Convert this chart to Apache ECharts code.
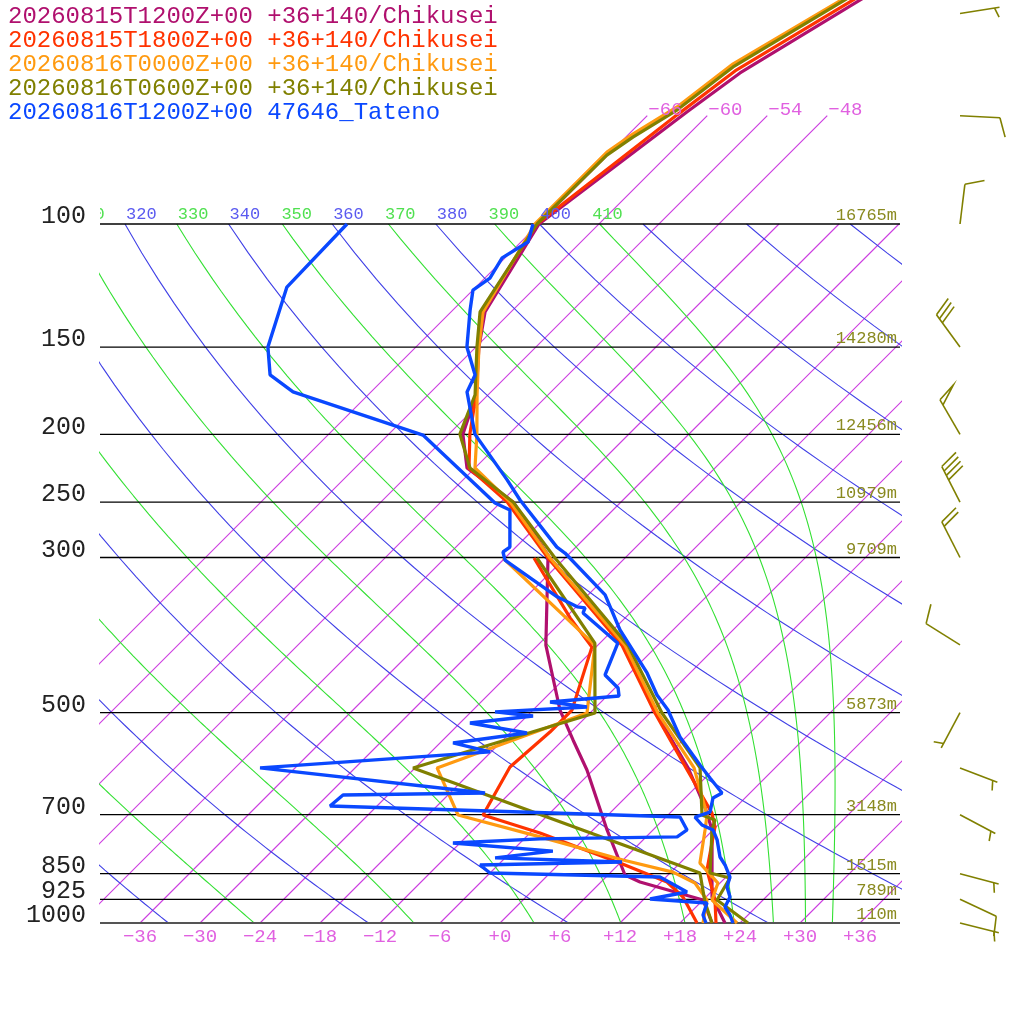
<!DOCTYPE html>
<html>
<head>
<meta charset="utf-8">
<script src="https://cdn.jsdelivr.net/npm/echarts@6/dist/echarts.min.js"></script>
<style>
html,body{margin:0;padding:0;background:#fff;}
#main{width:1024px;height:1024px;}
</style>
</head>
<body>
<div id="main"></div>
<script>
var FONT = '"Liberation Mono", "DejaVu Sans Mono", monospace';
var SKEW = 69.9;                 // degC shift per pressure decade (45 deg isotherms)
var P_TOP = 1000 * Math.pow(10, -923 / 699);

// ---- legend titles and colours
var titles = ['20260815T1200Z+00 +36+140/Chikusei', '20260815T1800Z+00 +36+140/Chikusei',
              '20260816T0000Z+00 +36+140/Chikusei', '20260816T0600Z+00 +36+140/Chikusei',
              '20260816T1200Z+00 47646_Tateno'];
var colors = ['#b0106e', '#ff3300', '#ff9a10', '#808000', '#0a48ff'];

// ---- profiles  [pressure hPa, degC]
var tPurple = [[40,-52.8],[60.8,-61.0],[69.1,-62.4],[100,-66.0],[133.6,-62.6],[150,-59.7],[175.6,-55.2],[199.8,-52.6],[223.4,-48.8],[249.8,-40.8],[300.5,-31.5],[400.4,-15.5],[500.7,-5.4],[600,3.3],[682.4,8.9],[736,11.9],[917.9,18.6],[1000,22.5]];
var dPurple = [[300.5,-31.7],[400.4,-23.2],[495.8,-15.3],[547.2,-11.0],[604.2,-6.6],[736,1.4],[853.8,7.7],[873.7,9.9],[927,18.0],[1000,21.2]];
var tRed = [[40,-53.4],[60.4,-61.7],[69.8,-63.1],[100,-66.2],[133.6,-63.0],[150,-59.8],[175.6,-55.2],[199.8,-51.9],[223.4,-48.6],[249.8,-41.4],[300.5,-31.7],[400.4,-15.6],[500.7,-5.5],[600,3.1],[696.2,10.2],[729,11.9],[839.9,15.4],[927,19.2],[1000,21.6]];
var dRed = [[300.5,-33.1],[366,-23.5],[403,-18.4],[495.8,-14.1],[533.1,-14.1],[598.2,-14.6],[700.6,-12.5],[743.4,-5.0],[820.9,6.0],[873.7,12.6],[917.9,15.7],[1000,19.7]];
var tOrange = [[40,-54.4],[59.0,-62.6],[68.0,-63.9],[74.3,-65.6],[78.9,-66.4],[100,-66.4],[133.6,-62.8],[150,-59.7],[175.6,-55.1],[199.8,-51.2],[223.4,-48.0],[249.8,-41.1],[300.5,-31.5],[400.4,-15.3],[500.7,-5.2],[600,3.9],[700.6,9.9],[736,11.2],[820.9,14.0],[876.7,17.8],[927,18.9],[1000,23.7]];
var dOrange = [[300.5,-36.2],[400.4,-18.3],[500.7,-12.3],[600,-21.8],[700.6,-15.0],[753,-4.6],[812.6,6.0],[845.6,12.2],[876.7,15.5],[927,18.4],[1000,20.3]];
var tOlive = [[40,-54.2],[59.6,-62.3],[68.7,-63.6],[75.1,-65.3],[79.7,-66.1],[100,-66.2],[133.6,-63.1],[150,-59.9],[175.6,-55.3],[199.8,-52.9],[223.4,-48.5],[249.8,-40.8],[300.5,-31.0],[400.4,-15.0],[500.7,-4.8],[600,4.5],[700.6,9.4],[712.3,11.2],[736,11.9],[848.2,16.0],[862.4,18.5],[927,19.4],[1000,24.8]];
var dOlive = [[300.5,-32.8],[397.8,-18.5],[500.7,-11.5],[600,-24.2],[848.2,15.0],[933.3,18.4],[1000,21.2]];
var tBlue = [[100,-66.6],[106.1,-65.3],[111.8,-66.3],[119.5,-65.5],[124.3,-66.0],[132.7,-64.3],[150,-60.9],[164.4,-57.3],[173.9,-56.4],[199.8,-51.4],[232.3,-43.6],[248.2,-40.3],[289.9,-31.9],[295.6,-30.5],[339.3,-22.3],[352.9,-20.6],[380.9,-17.3],[438.8,-10.3],[471.9,-7.1],[495.8,-4.5],[541.9,-0.6],[594.3,4.2],[620.2,6.5],[651.6,9.2],[662.5,8.8],[693.8,9.9],[705.3,8.9],[724.1,10.4],[736,12.0],[760.5,13.4],[804.6,15.4],[826,16.7],[859.5,18.4],[888.2,19.1],[917.9,20.4],[948.7,20.9],[974,22.2],[1000,23.3]];
var dBlue = [[100,-85.2],[123.1,-84.9],[150,-80.8],[164.4,-77.8],[173.9,-73.8],[200.4,-56.5],[250.7,-42.5],[256.6,-40.3],[289.9,-36.6],[294.6,-36.8],[302.5,-35.8],[341.5,-26.9],[352.9,-23.9],[354.2,-23.0],[360.1,-22.7],[397.8,-16.2],[441.7,-14.3],[461,-11.7],[473.4,-10.8],[482.8,-17.1],[490.9,-12.9],[498.9,-21.6],[505.6,-17.4],[517.5,-23.0],[534.8,-16.3],[552.6,-22.7],[569.1,-18.1],[600,-39.5],[651.6,-14.5],[655.9,-28.5],[680.1,-28.7],[705.3,7.4],[736,9.4],[753,9.1],[758,-4.4],[768.5,-12.7],[789.3,-1.9],[807,-7.0],[818,6.1],[826,-7.8],[848.2,-6.0],[859.5,11.4],[902.9,15.6],[924,12.6],[936.3,18.7],[974,19.5],[1000,20.6]];

// ---- winds (Tateno)
var windP   = [50, 70, 100, 150, 200, 250, 300, 400, 500, 600, 700, 850, 925, 1000];
var windDir = [81, 93, 7, 324, 330, 333, 333, 302, 208, 111, 118, 105, 115, 104];
var windSpd = [5, 10, 10, 30, 50, 40, 20, 10, 5, 5, 5, 5, 10, 5];

// ---- isobars and standard heights
var isobars = [100, 150, 200, 250, 300, 500, 700, 850, 925, 1000];
var heights = ['16765m', '14280m', '12456m', '10979m', '9709m', '5873m', '3148m', '1515m', '789m', '110m'];

// ---- background lines
var isotherms = [-66, -60, -54, -48, -42, -36, -30, -24, -18, -12, -6, 0, 6, 12, 18, 24, 30, 36];
var isoLabelled = [-66, -60, -54, -48];
var thetas = [240, 260, 280, 300, 320, 340, 360, 380, 400, 420, 440, 460, 480, 500, 520];
var thetaEs = [250, 270, 290, 310, 330, 350, 370, 390, 410];
var topLabels = [310, 320, 330, 340, 350, 360, 370, 380, 390, 400, 410];
var xTicks = [-36, -30, -24, -18, -12, -6, 0, 6, 12, 18, 24, 30, 36];

function sx(T, p) { return T + SKEW * Math.log10(1000 / p); }
function proj(arr) { return arr.map(function (d) { return [sx(d[1], d[0]), d[0]]; }); }
function minus(s) { return String(s).replace('-', '\u2212'); }

// thermodynamics for the reference curves
function esat(tc) { return 6.112 * Math.exp(17.67 * tc / (tc + 243.5)); }
function rsat(p, tc) { var e = esat(tc); return 0.622 * e / (p - e); }
function thetaE(p, tc) {
    var T = tc + 273.15, r = rsat(p, tc);
    return T * Math.pow(1000 / p, 0.2854 * (1 - 0.28 * r)) *
        Math.exp((3.376 / T - 0.00254) * r * 1000 * (1 + 0.81 * r));
}
function moistDT(p, tc) {
    var T = tc + 273.15, r = rsat(p, tc), Rd = 287.04, cp = 1005.7, L = 2.501e6;
    return (Rd * T + L * r) / (p * (cp + L * L * r * 0.622 / (Rd * T * T)));
}
function moistLine(te) {
    var lo = -70, hi = 50;
    for (var i = 0; i < 60; i++) {
        var mid = (lo + hi) / 2;
        if (thetaE(1000, mid) < te) lo = mid; else hi = mid;
    }
    var t = (lo + hi) / 2, pts = [[sx(t, 1000), 1000]];
    for (var p = 1000; p > 100; p -= 5) {
        var dp = -5, k1 = moistDT(p, t), k2 = moistDT(p + dp, t + k1 * dp);
        t += 0.5 * (k1 + k2) * dp;
        pts.push([sx(t, p + dp), p + dp]);
    }
    return pts;
}
function dryLine(th) {
    var pts = [];
    for (var p = 1000; p >= 100; p -= 10) {
        pts.push([sx(th * Math.pow(p / 1000, 0.2857) - 273.15, p), p]);
    }
    return pts;
}
function lineSeries(data, color, width, z) {
    return { type: 'line', data: data, symbol: 'none', silent: true, clip: true, z: z,
             lineStyle: { color: color, width: width }, animation: false };
}

var series = [];
isotherms.forEach(function (t) {
    var top = isoLabelled.indexOf(t) >= 0 ? 70 : 100;
    series.push(lineSeries([[sx(t, 1000), 1000], [sx(t, top), top]], '#cc3ce0', 1.1, 1));
});
thetas.forEach(function (th) { series.push(lineSeries(dryLine(th), '#4040e6', 1.1, 1)); });
thetaEs.forEach(function (te) { series.push(lineSeries(moistLine(te), '#33e033', 1.1, 1)); });
isobars.forEach(function (p) {
    series.push(lineSeries([[-40, p], [40, p]], p === 1000 ? '#555' : '#000', p === 1000 ? 2.2 : 1.3, 2));
});

var profiles = [[tPurple, dPurple], [tRed, dRed], [tOrange, dOrange], [tOlive, dOlive], [tBlue, dBlue]];
profiles.forEach(function (pr, i) {
    series.push(lineSeries(proj(pr[1]), colors[i], i === 4 ? 3.4 : 3.2, 5));
    series.push(lineSeries(proj(pr[0]), colors[i], i === 4 ? 3.4 : 3.2, 5));
});

// ---- texts that are clipped to the plot (theta labels at 100 hPa)
var clipTexts = topLabels.map(function (th) {
    return { v: [th * Math.pow(0.1, 0.2857) - 273.15 + SKEW, 100], text: String(th),
             color: th % 20 === 0 ? '#5a5af0' : '#50e050', size: 17, align: 'left', va: 'bottom', dx: 1, dy: -1 };
});
// ---- free texts
var texts = [];
isobars.forEach(function (p, i) {
    texts.push({ v: [-40, p], text: String(p), color: '#222', size: 25, align: 'right', va: 'bottom', dx: -14, dy: 5 });
    texts.push({ v: [40, p], text: heights[i], color: '#8a8a20', size: 17, align: 'right', va: 'bottom', dx: -3, dy: 0 });
});
isoLabelled.forEach(function (t) {
    texts.push({ v: [sx(t, 70), 70], text: minus(t), color: '#e060e0', size: 19, align: 'left', va: 'bottom', dx: 1, dy: 4 });
});
xTicks.forEach(function (t) {
    texts.push({ v: [t, 1000], text: t >= 0 ? '+' + t : minus(t), color: '#e060e0', size: 19, align: 'center', va: 'middle', dx: 0, dy: 14 });
});

function textSeries(list, clip) {
    return {
        type: 'custom', clip: clip, silent: true, z: 6, animation: false,
        data: list.map(function (d) { return d.v; }),
        renderItem: function (params, api) {
            var d = list[params.dataIndex];
            var pt = api.coord(d.v);
            return { type: 'text', x: pt[0] + d.dx, y: pt[1] + d.dy,
                     style: { text: d.text, fill: d.color, font: d.size + 'px ' + FONT,
                              align: d.align, verticalAlign: d.va } };
        }
    };
}
series.push(textSeries(clipTexts, true));
series.push(textSeries(texts, false));

// ---- wind barbs
series.push({
    type: 'custom', clip: false, silent: true, z: 6, animation: false,
    data: windP.map(function (p, i) { return [40, p, windDir[i], windSpd[i]]; }),
    renderItem: function (params, api) {
        var pt = api.coord([api.value(0), api.value(1)]);
        var cx = pt[0] + 60, cy = pt[1];
        var a = api.value(2) * Math.PI / 180, spd = api.value(3);
        var ux = Math.sin(a), uy = -Math.cos(a);
        var c = Math.cos(72 * Math.PI / 180), s = Math.sin(72 * Math.PI / 180);
        var bx = ux * c - uy * s, by = ux * s + uy * c;
        var L = 40, B = 20, S = 5;
        var tx = cx + ux * L, ty = cy + uy * L;
        var st = { stroke: '#808000', lineWidth: 1.6, fill: null };
        var kids = [{ type: 'line', shape: { x1: cx, y1: cy, x2: tx, y2: ty }, style: st }];
        var n50 = Math.floor(spd / 50), rem = spd - n50 * 50;
        var n10 = Math.floor(rem / 10), n5 = Math.round((rem - n10 * 10) / 5);
        var pos = 0;
        for (var i = 0; i < n50; i++) {
            var px = tx - ux * pos, py = ty - uy * pos;
            kids.push({ type: 'polyline', shape: { points: [[px, py], [px + bx * B, py + by * B], [px - ux * 6, py - uy * 6]] },
                        style: st });
            pos += 8;
        }
        for (i = 0; i < n10; i++) {
            px = tx - ux * pos; py = ty - uy * pos;
            kids.push({ type: 'line', shape: { x1: px, y1: py, x2: px + bx * B, y2: py + by * B }, style: st });
            pos += S;
        }
        if (n5) {
            if (pos === 0) pos = S;
            px = tx - ux * pos; py = ty - uy * pos;
            kids.push({ type: 'line', shape: { x1: px, y1: py, x2: px + bx * B / 2, y2: py + by * B / 2 }, style: st });
        }
        return { type: 'group', children: kids };
    }
});

var myChart = echarts.init(document.getElementById('main'), null, { renderer: 'canvas' });
var option = {
    animation: false,
    backgroundColor: '#fff',
    grid: { left: 100, right: 124, top: 0, bottom: 101 },
    xAxis: { type: 'value', min: -40, max: 40, show: false },
    yAxis: { type: 'log', logBase: 10, inverse: true, min: P_TOP, max: 1000, show: false },
    graphic: titles.map(function (t, i) {
        return { type: 'text', left: 8, top: 5 + 24 * i, z: 10,
                 style: { text: t, fill: colors[i], font: '24px ' + FONT } };
    }),
    series: series
};
myChart.setOption(option);
</script>
</body>
</html>
